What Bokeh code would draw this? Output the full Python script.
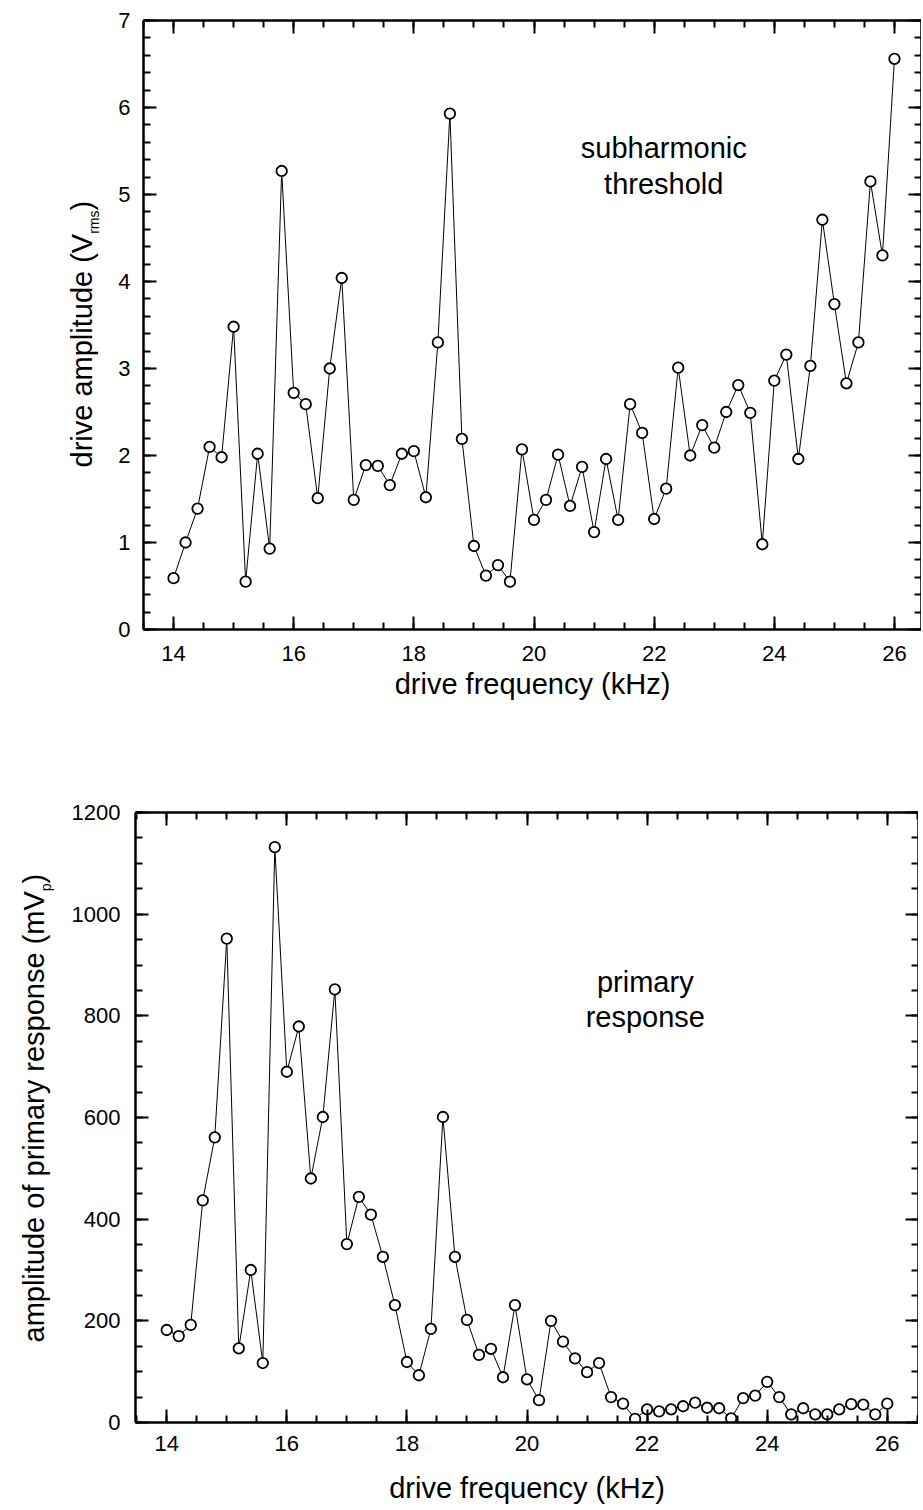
import math
from bokeh.plotting import figure
from bokeh.models import (LinearAxis, SingleIntervalTicker, Range1d, Label,
                          ColumnDataSource, CustomLabelingPolicy)
from bokeh.layouts import column, row
from bokeh.embed import file_html
from bokeh.resources import INLINE

# ---------------- data ----------------
freq_khz = [14.0, 14.2, 14.4, 14.6, 14.8, 15.0, 15.2, 15.4, 15.6, 15.8,
            16.0, 16.2, 16.4, 16.6, 16.8, 17.0, 17.2, 17.4, 17.6, 17.8,
            18.0, 18.2, 18.4, 18.6, 18.8, 19.0, 19.2, 19.4, 19.6, 19.8,
            20.0, 20.2, 20.4, 20.6, 20.8, 21.0, 21.2, 21.4, 21.6, 21.8,
            22.0, 22.2, 22.4, 22.6, 22.8, 23.0, 23.2, 23.4, 23.6, 23.8,
            24.0, 24.2, 24.4, 24.6, 24.8, 25.0, 25.2, 25.4, 25.6, 25.8,
            26.0]

threshold_vrms = [0.59, 1.00, 1.39, 2.10, 1.98, 3.48, 0.55, 2.02, 0.93, 5.27,
                  2.72, 2.59, 1.51, 3.00, 4.04, 1.49, 1.89, 1.88, 1.66, 2.02,
                  2.05, 1.52, 3.30, 5.93, 2.19, 0.96, 0.62, 0.74, 0.55, 2.07,
                  1.26, 1.49, 2.01, 1.42, 1.87, 1.12, 1.96, 1.26, 2.59, 2.26,
                  1.27, 1.62, 3.01, 2.00, 2.35, 2.09, 2.50, 2.81, 2.49, 0.98,
                  2.86, 3.16, 1.96, 3.03, 4.71, 3.74, 2.83, 3.30, 5.15, 4.30,
                  6.56]

primary_mvp = [182, 170, 192, 437, 561, 952, 146, 300, 117, 1132,
               690, 779, 480, 601, 852, 351, 444, 409, 326, 231,
               119, 93, 184, 601, 326, 202, 133, 145, 89, 231,
               85, 44, 200, 159, 126, 99, 117, 50, 37, 7,
               26, 22, 26, 32, 39, 29, 28, 8, 48, 53,
               80, 50, 16, 28, 16, 16, 26, 36, 35, 16,
               37]

x_title = "drive frequency (kHz)"
top_ytitle = ["drive amplitude (V", "rms", ")"]
bottom_ytitle = ["amplitude of primary response (mV", "p", ")"]
top_note = ["subharmonic", "threshold"]
bottom_note = ["primary", "response"]
FONT = "Liberation Sans"

H1 = 710          # height of the top row
H2 = 800          # height of the bottom row


def no_align(p):
    try:
        p.frame_align = False
    except Exception:
        pass


def style_axis(ax, labeled, standoff=12):
    ax.axis_line_width = 2.5
    ax.axis_line_color = "black"
    ax.major_tick_in = 13
    ax.major_tick_out = 0
    ax.minor_tick_in = 7
    ax.minor_tick_out = 0
    ax.major_tick_line_width = 2
    ax.minor_tick_line_width = 2
    ax.major_tick_line_color = "black"
    ax.minor_tick_line_color = "black"
    ax.major_label_text_font = FONT
    ax.major_label_text_color = "black"
    if labeled:
        ax.major_label_text_font_size = "22px"
        ax.major_label_standoff = standoff
    else:
        ax.major_label_text_font_size = "0px"
        ax.major_label_standoff = 0
        ax.major_label_policy = CustomLabelingPolicy(
            code="for (const i of indices) { indices.unset(i) } return indices")
        ax.axis_label = None


def make_panel(xr, yr, fw, fh, border_left, border_top, border_bottom,
               yvals, xint, yint, yminor, xstand, ystand, xlab_stand):
    p = figure(x_range=Range1d(*xr), y_range=Range1d(*yr),
               frame_width=fw, frame_height=fh,
               min_border_left=border_left, min_border_top=border_top,
               min_border_right=0, min_border_bottom=border_bottom,
               output_backend="svg", toolbar_location=None,
               background_fill_color="white", border_fill_color="white")
    no_align(p)
    p.xgrid.visible = False
    p.ygrid.visible = False
    p.outline_line_color = None

    p.xaxis.ticker = SingleIntervalTicker(interval=xint, num_minor_ticks=4)
    p.yaxis.ticker = SingleIntervalTicker(interval=yint, num_minor_ticks=yminor)
    for ax in p.xaxis:
        style_axis(ax, True, xstand)
        ax.axis_label = x_title
        ax.axis_label_text_font = FONT
        ax.axis_label_text_font_size = "29px"
        ax.axis_label_text_font_style = "normal"
        ax.axis_label_text_color = "black"
        ax.axis_label_standoff = xlab_stand
    for ax in p.yaxis:
        style_axis(ax, True, ystand)

    top = LinearAxis(ticker=SingleIntervalTicker(interval=xint, num_minor_ticks=4))
    style_axis(top, False)
    p.add_layout(top, "above")
    right = LinearAxis(ticker=SingleIntervalTicker(interval=yint, num_minor_ticks=yminor))
    style_axis(right, False)
    p.add_layout(right, "right")

    src = ColumnDataSource(dict(x=freq_khz, y=yvals))
    p.line("x", "y", source=src, line_color="black", line_width=1)
    p.scatter("x", "y", source=src, marker="circle", size=10.5,
              fill_color="white", line_color="black", line_width=1.8)
    return p


def lab(p, x, y, text, size="29px", angle=0.0, align="left"):
    p.add_layout(Label(x=x, y=y, text=text, angle=angle, text_font=FONT,
                       text_font_size=size, text_color="black",
                       text_align=align, text_baseline="alphabetic"))


def title_fig(w, h, parts, main_x, main_y, sub_x, sub_y, par_y):
    """A bare figure (pixel data space, y from the top) that carries the
    rotated y-axis title with its subscript."""
    t = figure(width=w, height=h, x_range=Range1d(0, w), y_range=Range1d(h, 0),
               min_border=0, x_axis_type=None, y_axis_type=None,
               output_backend="svg", toolbar_location=None,
               background_fill_color="white", border_fill_color="white")
    no_align(t)
    t.grid.visible = False
    t.outline_line_color = None
    lab(t, main_x, main_y, parts[0], angle=math.pi / 2)
    lab(t, sub_x, sub_y, parts[1], size="14px", angle=math.pi / 2)
    lab(t, main_x, par_y, parts[2], angle=math.pi / 2)
    return t


# ---------------- top panel ----------------
p1 = make_panel((13.5, 26.45), (0, 7), 778, 609, 31, 20, H1 - 20 - 609,
                threshold_vrms, 2, 1, 5, 16, 13, 4)
lab(p1, 22.16, 5.53, top_note[0], align="center")
lab(p1, 22.16, 5.12, top_note[1], align="center")
t1 = title_fig(112, H1, top_ytitle, 81.7, 467, 93.5, 233.3, 210)

# ---------------- bottom panel ----------------
p2 = make_panel((13.48, 26.52), (0, 1200), 783, 610, 75, 812 - H1,
                H2 - (812 - H1) - 610, primary_mvp, 2, 200, 4, 13, 15, 18)
lab(p2, 21.97, 866, bottom_note[0], align="center")
lab(p2, 21.97, 797, bottom_note[1], align="center")
t2 = title_fig(60, H2, bottom_ytitle, 33.5, 1342 - H1, 45.5, 890.8 - H1, 883 - H1)

layout = column(row(t1, p1, spacing=0), row(t2, p2, spacing=0), spacing=0)
open("out.html", "w").write(file_html(layout, INLINE))
